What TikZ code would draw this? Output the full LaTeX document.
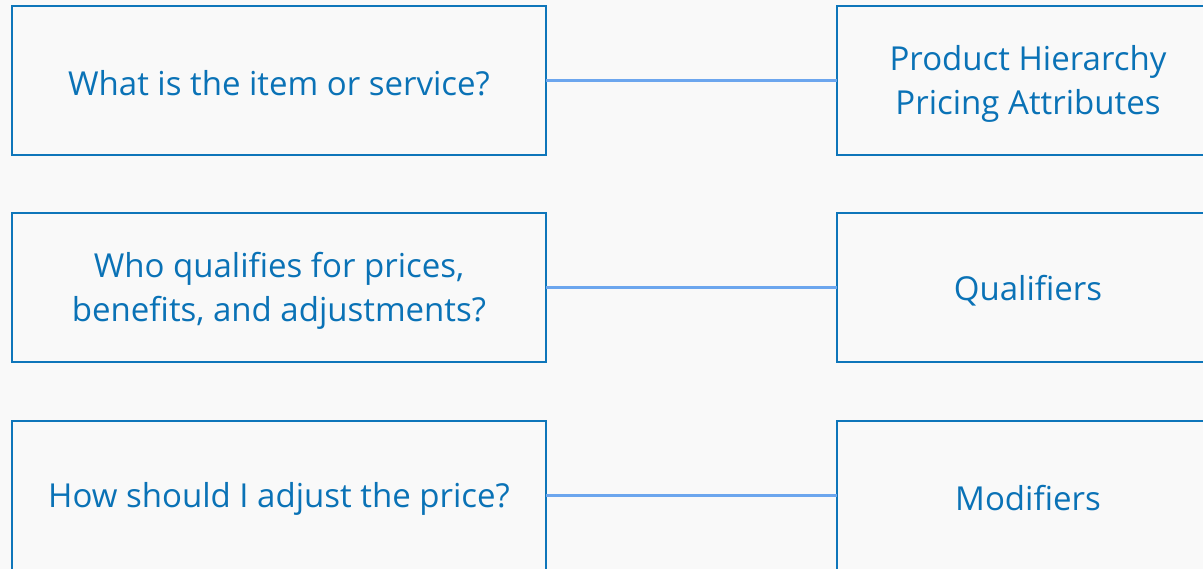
\documentclass[tikz,border=0pt]{standalone}
\usepackage{fontspec}
\setmainfont{Open Sans}
\definecolor{paper}{HTML}{F9F9F9}
\definecolor{boxblue}{HTML}{0E76BA}
\definecolor{textblue}{HTML}{0A72B6}
\definecolor{linkblue}{HTML}{6CA6EE}
\tikzset{
  qbox/.style={draw=boxblue, line width=2.2pt,
    minimum width=534pt, minimum height=149pt, inner sep=0pt, outer sep=0pt},
  abox/.style={qbox, minimum width=382pt},
  qtext/.style={text=textblue, align=center, inner sep=0pt, yshift=-3pt,
    font=\fontsize{33}{44}\selectfont},
  link/.style={draw=linkblue, line width=2.4pt}
}
\begin{document}
\begin{tikzpicture}[x=1pt,y=-1pt]

\fill[paper] (0,0) rectangle (1203,569) ;
\clip (0,0) rectangle (1203,569) ;

% questions
\node[qbox, label={[qtext]center:What is the item or service?}] (item) at (279,80.5) {} ;
\node[qbox, label={[qtext]center:Who qualifies for prices,\\benefits, and adjustments?}] (who) at (279,287.5) {} ;
\node[qbox, label={[qtext]center:How should I adjust the price?}] (how) at (279,495.5) {} ;

% answers
\node[abox, label={[qtext]center:Product Hierarchy\\Pricing Attributes}] (hier) at (1028,80.5) {} ;
\node[abox, label={[qtext]center:Qualifiers}] (qual) at (1028,287.5) {} ;
\node[abox, label={[qtext]center:Modifiers}] (mods) at (1028,495.5) {} ;

\draw[link] (item) -- (hier) ;
\draw[link] (who) -- (qual) ;
\draw[link] (how) -- (mods) ;
\end{tikzpicture}
\end{document}
